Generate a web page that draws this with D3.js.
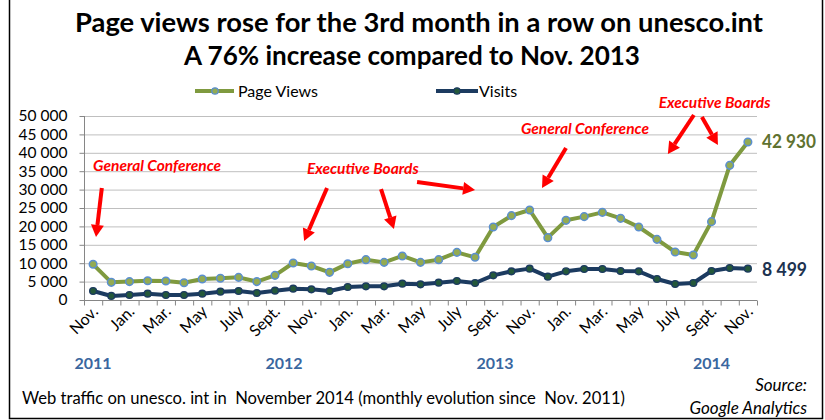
<!DOCTYPE html>
<html><head><meta charset="utf-8">
<script src="https://cdn.jsdelivr.net/npm/d3@7"></script>
<style>body{margin:0;background:#fff}svg{display:block}</style>
</head><body>
<svg id="c" width="825" height="420"></svg>
<script>
const months = ["Nov.","Dec.","Jan.","Feb.","Mar.","Apr.","May","June","July","Aug.","Sept.","Oct.",
"Nov.","Dec.","Jan.","Feb.","Mar.","Apr.","May","June","July","Aug.","Sept.","Oct.",
"Nov.","Dec.","Jan.","Feb.","Mar.","Apr.","May","June","July","Aug.","Sept.","Oct.","Nov."];
const pageViews = [9700,4800,5000,5250,5150,4700,5700,5900,6150,5000,6700,10050,
9240,7520,9870,10960,10230,11960,10230,10960,12950,11600,19840,22920,
24460,16940,21650,22650,23820,22190,19840,16480,13040,12230,21290,36590,42930];
const visits = [2450,1100,1360,1720,1360,1360,1720,2260,2450,1900,2540,3080,
2900,2450,3530,3710,3710,4440,4250,4710,5160,4620,6700,7790,
8520,6340,7800,8420,8420,7880,7790,5700,4350,4620,7880,8700,8499];
const yTicks = [0,5000,10000,15000,20000,25000,30000,35000,40000,45000,50000];
const years = [{label:"2011", idx:0},{label:"2012", idx:10.5},{label:"2013", idx:22.1},{label:"2014", idx:34.0}];
// annotations in data space: [index, value]
const annoTexts = [
  {t:"General Conference", x:0, y:36400},
  {t:"Executive Boards", x:11.76, y:35600},
  {t:"General Conference", x:23.52, y:46470},
  {t:"Executive Boards", x:31.1, y:53530}
];
const arrows = [
  [[0.48,30430],[0.16,17120]],
  [[12.86,30430],[11.6,16030]],
  [[15.83,30160],[16.54,19290]],
  [[17.81,32070],[21.0,29890]],
  [[26.0,41300],[24.68,30430]],
  [[33.03,50270],[31.6,39670]],
  [[33.47,49730],[34.35,42120]]
];

const FONT = "Lato, 'Open Sans', sans-serif";
const svg = d3.select("#c");
const L=84, R=757, T=116, B=300;
const x = d3.scaleBand().domain(d3.range(months.length)).range([L,R]).padding(0);
const cx = i => x(Math.floor(i)) + x.bandwidth()/2 + (i-Math.floor(i))*x.step();
const y = d3.scaleLinear().domain([0,50000]).range([B,T]);
const fmt = v => d3.format(",")(v).replace(/,/g," ");

// frame
svg.append("path").attr("d","M9.5,0 V418.5 H822.5 V0").attr("fill","none").attr("stroke","#000").attr("stroke-width",1.5);

// title
svg.append("text").attr("x",75).attr("y",32).attr("textLength",688).attr("lengthAdjust","spacingAndGlyphs")
  .attr("font-family",FONT).attr("font-weight","bold").attr("font-size",26).text("Page views rose for the 3rd month in a row on unesco.int");
svg.append("text").attr("x",184).attr("y",65).attr("textLength",456).attr("lengthAdjust","spacingAndGlyphs")
  .attr("font-family",FONT).attr("font-weight","bold").attr("font-size",26).text("A 76% increase compared to Nov. 2013");

// grid
svg.append("g").selectAll("line").data(yTicks.filter(d=>d>0)).join("line")
  .attr("x1",L).attr("x2",R).attr("y1",d=>y(d)+0.5).attr("y2",d=>y(d)+0.5)
  .attr("stroke","#bfbfbf").attr("stroke-width",1);

// y axis
const ya = svg.append("g").attr("transform",`translate(${L+0.5},0)`)
  .call(d3.axisLeft(y).tickValues(yTicks).tickFormat(fmt).tickSize(5).tickPadding(12));
ya.selectAll("path,line").attr("stroke","#868686");
ya.select(".domain").attr("d",`M0,${T}V${B}`);
ya.selectAll("text").attr("font-family",FONT).attr("font-size",15.5).attr("fill","#000");

// x axis
const xa = svg.append("g").attr("transform",`translate(0,${B+0.5})`);
xa.append("line").attr("x1",L).attr("x2",R).attr("stroke","#868686");
xa.selectAll("line.t").data(d3.range(months.length+1)).join("line").attr("class","t")
  .attr("x1",i=>L+i*x.step()+0.5).attr("x2",i=>L+i*x.step()+0.5).attr("y1",0).attr("y2",5).attr("stroke","#868686");
xa.selectAll("text").data(d3.range(0,months.length,2)).join("text")
  .attr("transform",i=>`translate(${x(i)+x.bandwidth()/2+6},${12}) rotate(-45)`)
  .attr("text-anchor","end").attr("font-family",FONT).attr("font-size",16).attr("fill","#000")
  .text(i=>months[i]);

// years
svg.append("g").selectAll("text").data(years).join("text")
  .attr("x",d=>cx(d.idx)).attr("y",369).attr("text-anchor","middle")
  .attr("font-family",FONT).attr("font-weight","bold").attr("font-size",16).attr("fill","#3a679f").text(d=>d.label);

// lines
const line = d3.line().x((d,i)=>cx(i)).y(d=>y(d));
svg.append("path").datum(pageViews).attr("d",line).attr("fill","none").attr("stroke","#7f9a3f").attr("stroke-width",4).attr("stroke-linejoin","round");
svg.append("g").selectAll("circle").data(pageViews).join("circle")
  .attr("cx",(d,i)=>cx(i)).attr("cy",d=>y(d)).attr("r",3.8).attr("fill","#93ab52").attr("stroke","#5b8fd0").attr("stroke-width",1.5);
svg.append("path").datum(visits).attr("d",line).attr("fill","none").attr("stroke","#1c3b60").attr("stroke-width",4).attr("stroke-linejoin","round");
svg.append("g").selectAll("circle").data(visits).join("circle")
  .attr("cx",(d,i)=>cx(i)).attr("cy",d=>y(d)).attr("r",3.4).attr("fill","#24583a").attr("stroke","#1c3b60").attr("stroke-width",1.4);

// end labels
const n = months.length-1;
svg.append("text").attr("x",R+5).attr("y",y(pageViews[n])+6).attr("textLength",54).attr("lengthAdjust","spacingAndGlyphs")
  .attr("font-family",FONT).attr("font-weight","bold").attr("font-size",19).attr("fill","#5f7230").text(fmt(pageViews[n]));
svg.append("text").attr("x",R+5).attr("y",y(visits[n])+7).attr("textLength",45).attr("lengthAdjust","spacingAndGlyphs")
  .attr("font-family",FONT).attr("font-weight","bold").attr("font-size",19).attr("fill","#1c3250").text(fmt(visits[n]));

// legend
const lg = svg.append("g");
lg.append("line").attr("x1",195).attr("x2",234).attr("y1",91).attr("y2",91).attr("stroke","#7f9a3f").attr("stroke-width",4);
lg.append("circle").attr("cx",215).attr("cy",91).attr("r",3.2).attr("fill","#93ab52").attr("stroke","#5b8fd0").attr("stroke-width",1.3);
lg.append("text").attr("x",238).attr("y",97).attr("font-family",FONT).attr("font-size",16).text("Page Views");
lg.append("line").attr("x1",436).attr("x2",478).attr("y1",91).attr("y2",91).attr("stroke","#1c3b60").attr("stroke-width",4);
lg.append("circle").attr("cx",457).attr("cy",91).attr("r",3.2).attr("fill","#24583a").attr("stroke","#1c3b60").attr("stroke-width",1.3);
lg.append("text").attr("x",479).attr("y",97).attr("font-family",FONT).attr("font-size",16).text("Visits");

// annotations
svg.append("g").selectAll("text").data(annoTexts).join("text")
  .attr("x",d=>cx(d.x)).attr("y",d=>y(d.y)+5).attr("font-family",FONT).attr("font-weight","bold").attr("font-style","italic")
  .attr("font-size",15.5).attr("fill","#ff0000").text(d=>d.t);
const ag = svg.append("g");
arrows.forEach(a=>{
  const x1=cx(a[0][0]), y1=y(a[0][1]), x2=cx(a[1][0]), y2=y(a[1][1]);
  const dx=x2-x1, dy=y2-y1, len=Math.hypot(dx,dy), ux=dx/len, uy=dy/len;
  const hl=12, hw=6.5;
  const bx=x2-ux*hl, by=y2-uy*hl;
  ag.append("line").attr("x1",x1).attr("y1",y1).attr("x2",bx).attr("y2",by).attr("stroke","#ff0000").attr("stroke-width",4);
  ag.append("path").attr("d",`M${x2},${y2}L${bx-uy*hw},${by+ux*hw}L${bx+uy*hw},${by-ux*hw}Z`).attr("fill","#ff0000");
});

// footer
svg.append("text").attr("x",22).attr("y",404).attr("textLength",603).attr("lengthAdjust","spacingAndGlyphs")
  .attr("font-family",FONT).attr("font-size",16.5).attr("fill","#000")
  .text("Web traffic on unesco. int in  November 2014 (monthly evolution since  Nov. 2011)").style("white-space","pre");
svg.append("text").attr("x",807).attr("y",391).attr("text-anchor","end").attr("font-family",FONT).attr("font-style","italic").attr("font-size",17).text("Source:");
svg.append("text").attr("x",807).attr("y",414).attr("text-anchor","end").attr("font-family",FONT).attr("font-style","italic").attr("font-size",17).text("Google Analytics");
</script>
</body></html>
